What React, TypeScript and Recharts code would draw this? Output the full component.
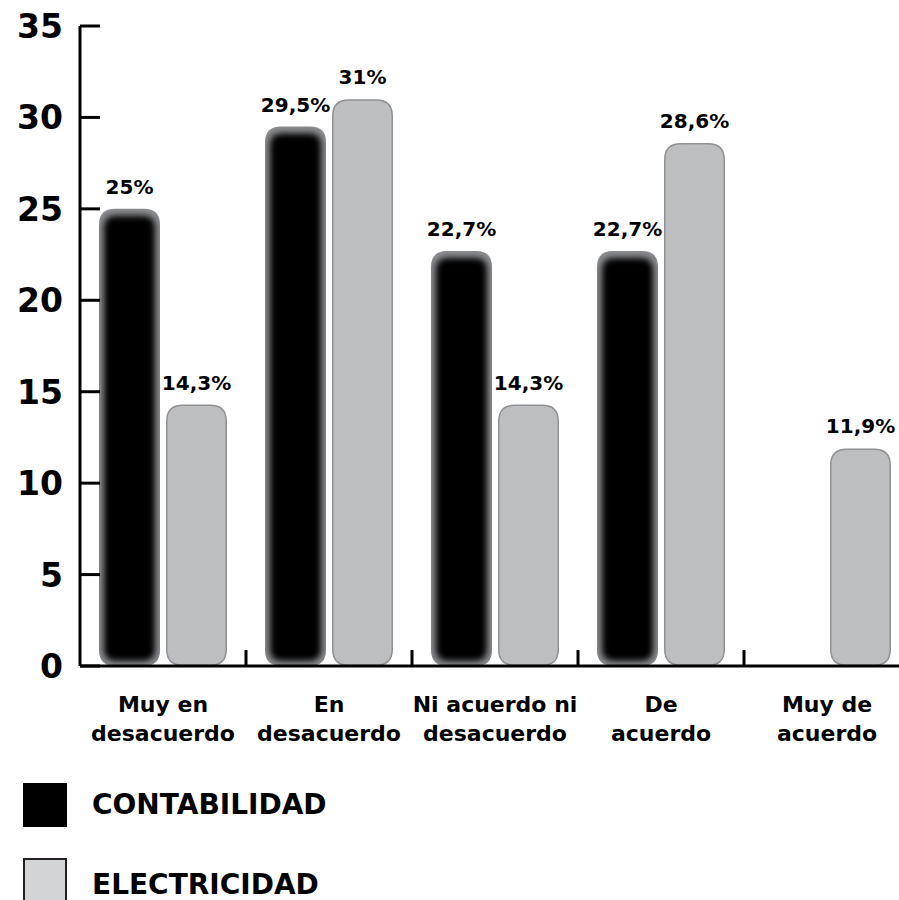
import React from 'react';
import { BarChart, Bar, XAxis, YAxis, LabelList, Legend } from 'recharts';

const categoryLines: string[][] = [
  ['Muy en', 'desacuerdo'],
  ['En', 'desacuerdo'],
  ['Ni acuerdo ni', 'desacuerdo'],
  ['De', 'acuerdo'],
  ['Muy de', 'acuerdo'],
];
const categories = categoryLines.map((l) => l.join(' '));
const contabilidad: (number | null)[] = [25, 29.5, 22.7, 22.7, null];
const electricidad: (number | null)[] = [14.3, 31, 14.3, 28.6, 11.9];
const yTicks = [0, 5, 10, 15, 20, 25, 30, 35];
const seriesNames = ['CONTABILIDAD', 'ELECTRICIDAD'];

const data = categories.map((c, i) => ({
  name: c,
  contabilidad: contabilidad[i],
  electricidad: electricidad[i],
}));

const FONT = '"DejaVu Sans", sans-serif';
const CHART_W = 910;
const CHART_H = 900;
const Y_AXIS_W = 80;
const BAND = (CHART_W - Y_AXIS_W) / categories.length;

const YTick = (props: any) => {
  const { x, y, payload } = props;
  return (
    <g>
      <line x1={x} x2={x + 20} y1={y} y2={y} stroke="#000" strokeWidth={3} />
      <text x={x - 17} y={y + 12} textAnchor="end" fontFamily={FONT} fontWeight={700} fontSize={33} fill="#000">
        {payload.value}
      </text>
    </g>
  );
};

const XTick = (props: any) => {
  const { x, y, index } = props;
  const lines = categoryLines[index] || [];
  return (
    <g>
      {index < categories.length - 1 && (
        <line x1={x + BAND / 2} x2={x + BAND / 2} y1={y} y2={y - 16} stroke="#000" strokeWidth={3} />
      )}
      <text textAnchor="middle" fontFamily={FONT} fontWeight={700} fontSize={22} fill="#000">
        {lines.map((l, i) => (
          <tspan key={i} x={x} y={y + 46 + i * 29}>
            {l}
          </tspan>
        ))}
      </text>
    </g>
  );
};

const roundedPath = (x: number, y: number, w: number, h: number, r: number) => {
  const rr = Math.min(r, w / 2, h / 2);
  return `M${x + rr},${y} H${x + w - rr} Q${x + w},${y} ${x + w},${y + rr} V${y + h - rr} Q${x + w},${y + h} ${x + w - rr},${y + h} H${x + rr} Q${x},${y + h} ${x},${y + h - rr} V${y + rr} Q${x},${y} ${x + rr},${y} Z`;
};

const BlackBar = (props: any) => {
  const { x, y, width, height, index } = props;
  if (!height || height <= 0) return null;
  const id = `clipBlack${index}`;
  const d = roundedPath(x, y, width, height, 16);
  return (
    <g>
      <defs>
        <clipPath id={id}>
          <path d={d} />
        </clipPath>
      </defs>
      <path d={d} fill="#8a8c8f" />
      <g clipPath={`url(#${id})`}>
        <path d={roundedPath(x + 5, y + 7, width - 10, height - 12, 12)} fill="#000" filter="url(#softEdge)" />
      </g>
    </g>
  );
};

const GrayBar = (props: any) => {
  const { x, y, width, height } = props;
  if (!height || height <= 0) return null;
  return <path d={roundedPath(x + 0.75, y + 0.75, width - 1.5, height - 1.5, 16)} fill="#bcbec0" stroke="#8f9194" strokeWidth={1.5} />;
};

const ValueLabel = (props: any) => {
  const { x, y, width, value } = props;
  if (value === null || value === undefined) return null;
  return (
    <text x={x + width / 2} y={y - 15} textAnchor="middle" fontFamily={FONT} fontWeight={700} fontSize={20} fill="#000">
      {String(value).replace('.', ',') + '%'}
    </text>
  );
};

const LegendContent = () => (
  <div style={{ fontFamily: FONT, fontWeight: 700 }}>
    {seriesNames.map((n, i) => (
      <div key={n} style={{ position: 'absolute', left: 23, top: i * 75, display: 'flex', alignItems: 'flex-start' }}>
        <div
          style={{
            width: 44,
            height: 44,
            boxSizing: 'border-box',
            background: i === 0 ? '#000' : '#d3d4d5',
            border: i === 0 ? 'none' : '2px solid #231f20',
          }}
        />
        <span
          style={{
            marginLeft: 25,
            marginTop: i === 0 ? 0 : 5,
            fontSize: 28,
            color: '#000',
            whiteSpace: 'nowrap',
            lineHeight: '44px',
          }}
        >
          {n}
        </span>
      </div>
    ))}
  </div>
);

export default function App() {
  return (
    <div style={{ position: 'absolute', left: 0, top: 0, width: 899, height: 900, overflow: 'hidden', background: '#fff' }}>
      <BarChart
        width={CHART_W}
        height={CHART_H}
        data={data}
        margin={{ top: 26, right: 0, bottom: 0, left: 0 }}
        barSize={61}
        barGap={6}
      >
        <defs>
          <filter id="softEdge" x="-30%" y="-30%" width="160%" height="160%">
            <feGaussianBlur stdDeviation="3" />
          </filter>
        </defs>
        <XAxis
          dataKey="name"
          height={234}
          tickSize={0}
          tickMargin={0}
          tickLine={false}
          axisLine={{ stroke: '#000', strokeWidth: 3 }}
          tick={<XTick />}
          interval={0}
        />
        <YAxis
          width={Y_AXIS_W}
          domain={[0, 35]}
          ticks={yTicks}
          tickSize={0}
          tickMargin={0}
          tickLine={false}
          axisLine={{ stroke: '#000', strokeWidth: 3 }}
          tick={<YTick />}
          interval={0}
        />
        <Legend
          layout="horizontal"
          verticalAlign="middle"
          align="center"
          content={<LegendContent />}
          wrapperStyle={{ position: 'absolute', left: 0, top: 783, width: 400, height: 120 }}
        />
        <Bar dataKey="contabilidad" name={seriesNames[0]} fill="#000" shape={<BlackBar />} isAnimationActive={false}>
          <LabelList dataKey="contabilidad" content={<ValueLabel />} />
        </Bar>
        <Bar dataKey="electricidad" name={seriesNames[1]} fill="#bcbec0" shape={<GrayBar />} isAnimationActive={false}>
          <LabelList dataKey="electricidad" content={<ValueLabel />} />
        </Bar>
      </BarChart>
    </div>
  );
}
